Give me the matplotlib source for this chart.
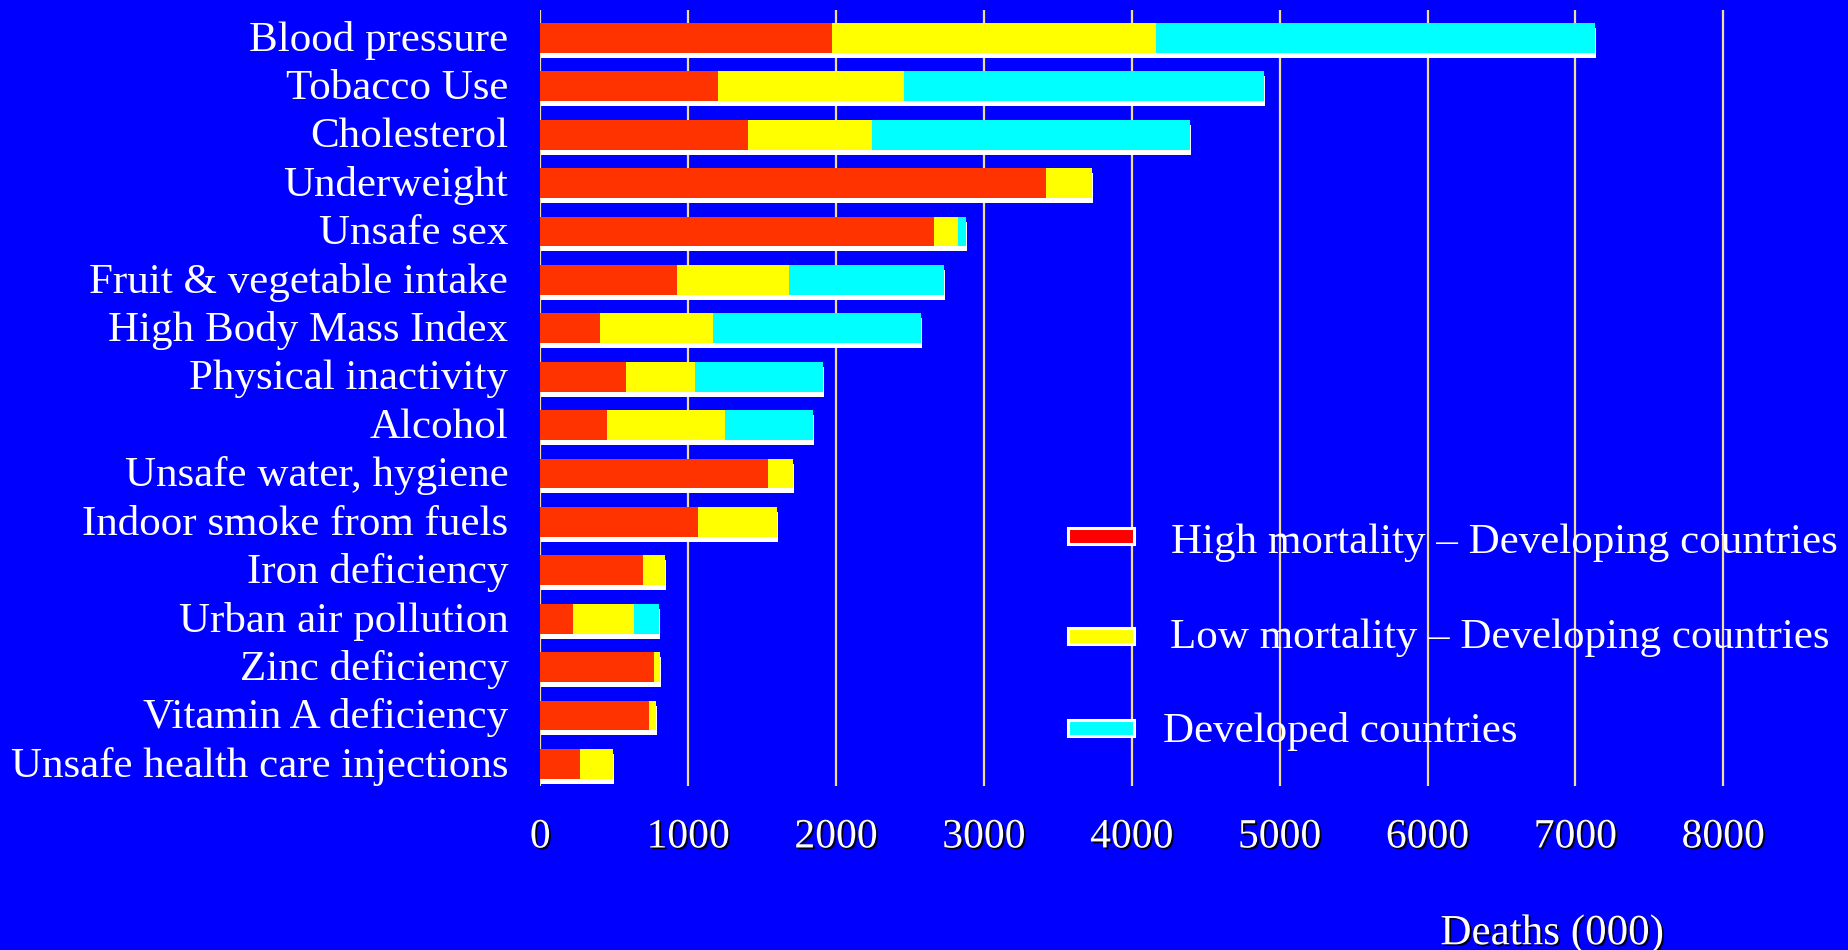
import matplotlib
matplotlib.use("Agg")
import matplotlib.pyplot as plt
import matplotlib.patheffects as pe
import matplotlib.transforms as mtransforms
from matplotlib.patches import Rectangle
import numpy as np

# Attributable deaths (thousands) by risk factor and region group
categories = [
    "Blood pressure", "Tobacco Use", "Cholesterol", "Underweight", "Unsafe sex",
    "Fruit & vegetable intake", "High Body Mass Index", "Physical inactivity",
    "Alcohol", "Unsafe water, hygiene", "Indoor smoke from fuels",
    "Iron deficiency", "Urban air pollution", "Zinc deficiency",
    "Vitamin A deficiency", "Unsafe health care injections",
]
high_mortality_dev = [1971, 1201, 1404, 3420, 2662, 924, 404, 580, 450, 1540,
                      1066, 695, 221, 769, 734, 268]
low_mortality_dev = [2192, 1257, 839, 311, 163, 755, 767, 464, 800, 169,
                     534, 148, 413, 40, 48, 224]
developed = [2968, 2435, 2149, 0, 55, 1050, 1404, 867, 594, 0,
             0, 0, 169, 0, 0, 0]
series_names = [
    "High mortality \u2013 Developing countries",
    "Low mortality \u2013 Developing countries",
    "Developed countries",
]
x_ticks = [0, 1000, 2000, 3000, 4000, 5000, 6000, 7000, 8000]
x_label = "Deaths (000)"

BG = "#0000FF"
bar_colors = ["#FF3300", "#FFFF00", "#00FFFF"]
key_colors = ["#FF0000", "#FFFF00", "#00FFFF"]
SERIF = "Liberation Serif"

W, H = 1849, 950
fig = plt.figure(figsize=(W / 100, H / 100), dpi=100, facecolor=BG)

def fx(px):
    return px / W

def fy(py):
    return 1 - py / H

ax = fig.add_axes([fx(540.3), fy(786), (W - 540.3) / W, 776 / H])
ax.set_facecolor(BG)

y = np.arange(len(categories))
shadow = [pe.SimplePatchShadow(offset=(0.7, -3.6), shadow_rgbFace="white", alpha=1.0),
          pe.Normal()]
left = np.zeros(len(categories))
for vals, color in zip([high_mortality_dev, low_mortality_dev, developed], bar_colors):
    vals = np.asarray(vals, dtype=float)
    bars = ax.barh(y, vals, left=left, height=0.614, color=color, linewidth=0, zorder=3)
    for b in bars:
        b.set_path_effects(shadow)
    left = left + vals

ax.set_xlim(0, 8850)
ax.set_ylim(15.457, -0.576)
ax.set_axisbelow(True)
ax.set_xticks(x_ticks)
ax.grid(axis="x", color="#F2DC9C", linewidth=1.6, zorder=1)
ax.grid(axis="y", visible=False)
for s in ax.spines.values():
    s.set_visible(False)

ax.set_yticks(y)
ax.set_yticklabels(categories, fontsize=31, color="white", family=SERIF)
ax.tick_params(axis="y", length=0, pad=23)
ax.tick_params(axis="x", length=0, pad=23)
ax.set_xticklabels([str(t) for t in x_ticks], fontsize=30, color="white", family=SERIF)

# nudge the category names up a touch
lift = mtransforms.ScaledTranslation(0, 1.5 / 72, fig.dpi_scale_trans)
for lab in ax.get_yticklabels():
    lab.set_transform(lab.get_transform() + lift)

text_shadow = [pe.withSimplePatchShadow(offset=(1.3, -1.3), shadow_rgbFace="black", alpha=0.9)]
for lab in ax.get_xticklabels():
    lab.set_path_effects(text_shadow)

fig.text(fx(1552), fy(934), x_label, ha="center", va="center", fontsize=31,
         color="white", family=SERIF, path_effects=text_shadow)

# Key
box_centers = [535.7, 636.0, 728.0]
text_x = [1171, 1170, 1163]
baselines = [553, 648, 742]
for name, col, cy, tx, bl in zip(series_names, key_colors, box_centers, text_x, baselines):
    fig.add_artist(Rectangle((fx(1068), fy(cy + 8)), 66 / W, 16 / H,
                             transform=fig.transFigure, facecolor=col,
                             edgecolor="white", linewidth=2.2, zorder=5))
    fig.text(fx(tx), fy(bl), name, ha="left", va="baseline", fontsize=31,
             color="white", family=SERIF, zorder=5)

fig.savefig("out.png", dpi=100, facecolor=BG)
